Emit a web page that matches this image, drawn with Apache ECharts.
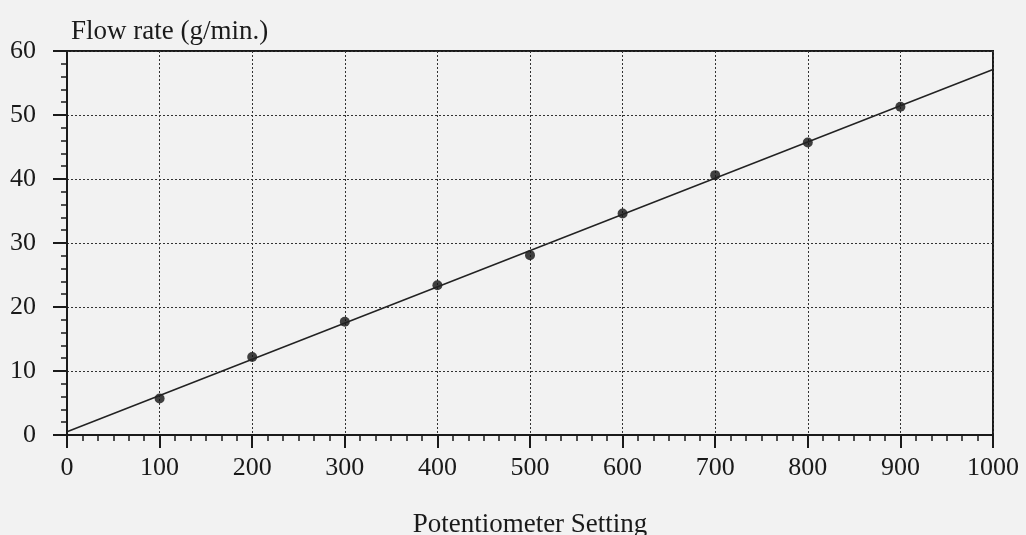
<!DOCTYPE html>
<html>
<head>
<meta charset="utf-8">
<script src="https://cdn.jsdelivr.net/npm/echarts@6/dist/echarts.min.js"></script>
<style>
html,body{margin:0;padding:0;background:#f2f2f2;}
#chart{width:1026px;height:535px;}
</style>
</head>
<body>
<div id="chart"></div>
<script>
var settings = [100, 200, 300, 400, 500, 600, 700, 800, 900];
var flowRates = [5.7, 12.2, 17.7, 23.4, 28.1, 34.6, 40.6, 45.7, 51.3];
var trendX = [0, 1000];
var trendY = [0.5, 57.1];
var yTitle = 'Flow rate (g/min.)';
var xTitle = 'Potentiometer Setting';

var font = 'Liberation Serif';
var ink = '#1a1a1a';

var chart = echarts.init(document.getElementById('chart'));
chart.setOption({
  backgroundColor: '#f2f2f2',
  animation: false,
  title: {
    text: yTitle,
    left: 66, top: 13,
    textStyle: {fontFamily: font, fontSize: 27, fontWeight: 'normal', color: ink}
  },
  grid: {
    left: 67, right: 33, top: 51, bottom: 100,
    outerBoundsMode: 'none', containLabel: false,
    show: true, borderColor: ink, borderWidth: 2, backgroundColor: 'transparent'
  },
  xAxis: {
    type: 'value', min: 0, max: 1000, interval: 100,
    name: xTitle, nameLocation: 'middle', nameGap: 76,
    nameTextStyle: {fontFamily: font, fontSize: 27, color: ink},
    axisLine: {show: true, lineStyle: {color: ink, width: 2}},
    axisTick: {show: true, length: 13, lineStyle: {color: ink, width: 2}},
    minorTick: {show: true, splitNumber: 6, length: 6, lineStyle: {color: ink, width: 1.5}},
    axisLabel: {fontFamily: font, fontSize: 26, color: ink, margin: 20,
      formatter: function (v) { return String(v); }},
    splitLine: {show: true, lineStyle: {color: '#333', width: 1, type: [2, 2]}}
  },
  yAxis: {
    type: 'value', min: 0, max: 60, interval: 10,
    axisLine: {show: true, lineStyle: {color: ink, width: 2}},
    axisTick: {show: true, length: 14, lineStyle: {color: ink, width: 2}},
    minorTick: {show: true, splitNumber: 5, length: 6, lineStyle: {color: ink, width: 1.5}},
    axisLabel: {fontFamily: font, fontSize: 26, color: ink, margin: 31},
    splitLine: {show: true, lineStyle: {color: '#333', width: 1, type: [2, 2]}}
  },
  series: [
    {
      type: 'line',
      data: trendX.map(function (x, i) { return [x, trendY[i]]; }),
      showSymbol: false,
      lineStyle: {color: '#222', width: 1.5},
      silent: true
    },
    {
      type: 'scatter',
      data: settings.map(function (x, i) { return [x, flowRates[i]]; }),
      symbol: 'circle', symbolSize: 10,
      itemStyle: {color: '#111'}
    }
  ]
});
</script>
</body>
</html>
